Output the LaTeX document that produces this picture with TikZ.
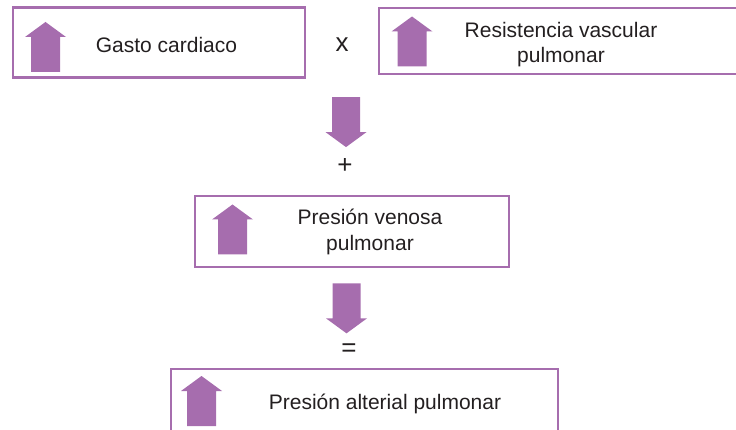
\documentclass[tikz,border=0pt]{standalone}
\usepackage{fontspec}
\setmainfont{Liberation Sans}
\usetikzlibrary{positioning,calc}
\definecolor{morado}{HTML}{A66DAE}
\definecolor{texto}{HTML}{231F20}

\tikzset{
  caja/.style={draw=morado, line width=2.7pt, minimum height=70pt, inner sep=0pt},
  rotulo/.style={align=center, text=texto, font=\fontsize{21}{25.5}\selectfont, inner sep=0pt},
  signo/.style={text=texto, font=\fontsize{26}{26}\selectfont, inner sep=0pt},
  flechasube/.pic={\fill[morado] (-14.5,25) -- (-14.5,-10) -- (-20.5,-10) -- (0,-25) -- (20.5,-10) -- (14.5,-10) -- (14.5,25) -- cycle;},
  flechabaja/.pic={\fill[morado] (-14,-25) -- (-14,10) -- (-20.5,10) -- (0,25) -- (20.5,10) -- (14,10) -- (14,-25) -- cycle;}
}

\begin{document}
\begin{tikzpicture}[x=1pt,y=-1pt]
     \clip (0,0) rectangle (736,430);
     % cajas
     \node[caja, minimum width=292pt] (gc) at (159,42.5) {};
     \node[caja, minimum width=364pt, minimum height=66pt] (rvp) at (561,41) {};
     \node[caja, minimum width=314pt, minimum height=71pt] (pvp) at (352,231.5) {};
     \node[caja, minimum width=387pt, minimum height=71pt] (pap) at (364.5,404.5) {};

     \node[rotulo] (tgc) at (166.5,44.5) {Gasto cardiaco};
     \node[rotulo] (trvp) at (561,44.7) {Resistencia vascular\\pulmonar};
     \node[rotulo] (tpvp) at (370,232) {Presión venosa\\pulmonar};
     \node[rotulo] (tpap) at (385,404) {Presión alterial pulmonar};

     \node[signo] (por) at (342,45) {x};
     \node[signo] (mas) at (345,166) {+};
     \node[signo] (igual) at (349,350) {=};

     % flechas
     \pic at (45.5,47) {flechasube};
     \pic at (412,41.5) {flechasube};
     \pic at (232.5,229.5) {flechasube};
     \pic at (201.5,401) {flechasube};
     \pic at ($(gc.south east)!0.5!(rvp.south west)+(4,45)$) {flechabaja};
     \pic at ($(pvp.south)+(-5.5,40)$) {flechabaja};
\end{tikzpicture}
\end{document}
